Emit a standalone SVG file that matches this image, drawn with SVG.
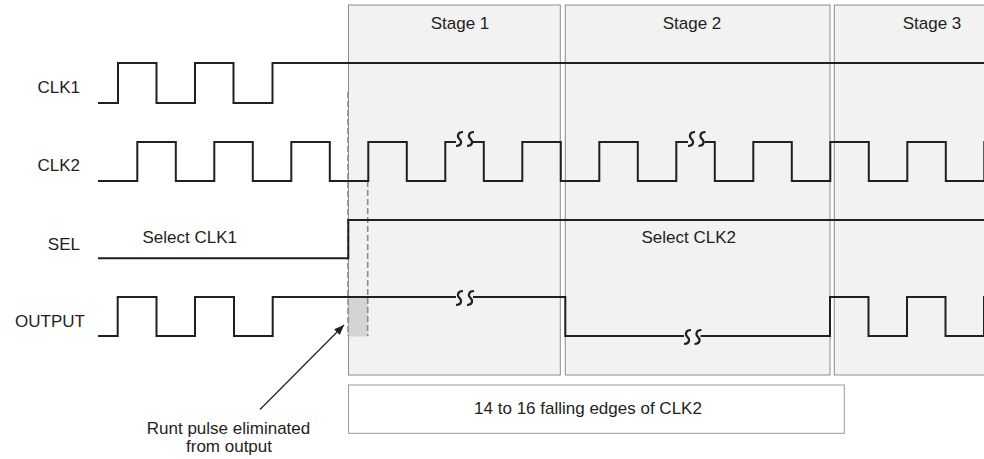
<svg xmlns="http://www.w3.org/2000/svg" xmlns:xlink="http://www.w3.org/1999/xlink" width="984" height="459" viewBox="0 0 984 459">
<style>
.stage{fill:#f2f2f2;stroke:#8c8c8c;stroke-width:1}
.note{fill:#ffffff;stroke:#9a9a9a;stroke-width:1}
.sig{fill:none;stroke:#231f20;stroke-width:2;stroke-linejoin:miter}
.brk{fill:none;stroke:#231f20;stroke-width:2.2}
.dash{stroke:#8c8c8c;stroke-width:1.6;stroke-dasharray:6,3;fill:none}
text{font-family:"Liberation Sans",Arial,sans-serif;font-size:17px;fill:#231f20}
.lbl{text-anchor:end}
.mid{text-anchor:middle}
</style>
<defs>
<path id="bk" d="M3.5,-7 C-2.2,-7 -2.6,-2.6 0,0 C2.6,2.6 2.2,7 -3.5,7"/>
<marker id="ah" viewBox="0 0 10 8" refX="10" refY="4" markerWidth="10" markerHeight="8" markerUnits="userSpaceOnUse" orient="auto">
<path d="M0,0 L10,4 L0,8 Z" fill="#231f20"/>
</marker>
</defs>

<g id="stage1"><rect class="stage" x="348.5" y="5" width="211.8" height="370"/><text class="mid" x="460" y="29">Stage 1</text></g>
<g id="stage2"><rect class="stage" x="565.3" y="5" width="264.7" height="370"/><text class="mid" x="692" y="29">Stage 2</text></g>
<g id="stage3"><rect class="stage" x="834.3" y="5" width="160" height="370"/><text class="mid" x="932" y="29">Stage 3</text></g>

<g id="runt">
<rect x="348.5" y="297" width="19.2" height="39.5" fill="#d4d4d4"/>
<line class="dash" x1="348" y1="92" x2="348" y2="336"/>
<line class="dash" x1="367.7" y1="181" x2="367.7" y2="336"/>
</g>

<g id="clk1">
<text class="lbl" x="80" y="93">CLK1</text>
<path class="sig" d="M98,103 H118 V63 H156.5 V103 H195 V63 H233.5 V103 H272.5 V63 H990"/>
</g>

<g id="clk2">
<text class="lbl" x="80" y="171">CLK2</text>
<path class="sig" d="M98,181 H137.3 V142 H175.8 V181 H214.3 V142 H252.8 V181 H291.3 V142 H329.8 V181 H368.3 V142 H406.8 V181 H445.3 V142 H456"/>
<use xlink:href="#bk" class="brk" x="459.5" y="139"/>
<use xlink:href="#bk" class="brk" x="470.5" y="139"/>
<path class="sig" d="M473,142 H483.8 V181 H522.3 V142 H560.8 V181 H599.3 V142 H637.8 V181 H676.3 V142 H688"/>
<use xlink:href="#bk" class="brk" x="691.5" y="139"/>
<use xlink:href="#bk" class="brk" x="702" y="139"/>
<path class="sig" d="M704.5,142 H714.8 V181 H753.3 V142 H791.8 V181 H830.3 V142 H868.8 V181 H907.3 V142 H945.8 V181 H984.3 V142 H990"/>
</g>

<g id="sel">
<text class="lbl" x="80" y="250">SEL</text>
<path class="sig" d="M98,258.3 H348.3 V220 H990"/>
<text x="142.5" y="243">Select CLK1</text>
<text x="641.5" y="243">Select CLK2</text>
</g>

<g id="output">
<text class="lbl" x="85" y="327">OUTPUT</text>
<path class="sig" d="M98,336 H117.7 V297 H156.5 V336 H195 V297 H234 V336 H272.7 V297 H456"/>
<use xlink:href="#bk" class="brk" x="459.5" y="298"/>
<use xlink:href="#bk" class="brk" x="470.5" y="298"/>
<path class="sig" d="M473,297 H565.3 V336 H684"/>
<use xlink:href="#bk" class="brk" x="687.5" y="337"/>
<use xlink:href="#bk" class="brk" x="698" y="337"/>
<path class="sig" d="M700.5,336 H830 V297 H868.5 V336 H907 V297 H945.5 V336 H984 V297 H990"/>
</g>

<g id="count-note">
<rect class="note" x="348.5" y="385" width="495.8" height="48.3"/>
<text class="mid" x="588" y="414">14 to 16 falling edges of CLK2</text>
</g>

<g id="runt-note">
<text class="mid" x="228.5" y="434">Runt pulse eliminated</text>
<text class="mid" x="229" y="452">from output</text>
</g>

<g id="connectors">
<line x1="260" y1="409.5" x2="344" y2="325" stroke="#231f20" stroke-width="1.2" marker-end="url(#ah)"/>
</g>
</svg>
